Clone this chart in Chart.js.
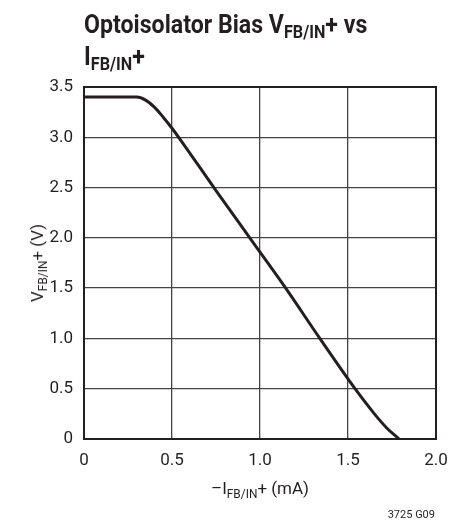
<!DOCTYPE html>
<html>
<head>
<meta charset="utf-8">
<script src="https://cdn.jsdelivr.net/npm/chart.js@4.4.1/dist/chart.umd.min.js"></script>
<style>
  html, body { margin: 0; padding: 0; background: #fff; }
  #wrap { position: relative; width: 469px; height: 521px; font-family: "Roboto", sans-serif; color: #231f20; }
  #myChart { position: absolute; left: 0; top: 0; }
  .title { position: absolute; left: 84px; font-weight: bold; font-size: 26px; line-height: 32px; white-space: nowrap; transform: scaleX(0.89); transform-origin: left center; }
  .title sub, .lbl sub { font-size: 70%; vertical-align: -0.3em; line-height: 0; }
  .lbl { position: absolute; font-size: 17px; white-space: nowrap; }
  #ylab { left: 37px; top: 263px; transform: translate(-50%, -50%) rotate(-90deg); }
  #xlab { left: 260px; top: 488px; transform: translate(-50%, -50%); }
  #code { position: absolute; right: 34px; top: 508px; font-size: 11px; }
</style>
</head>
<body>
<div id="wrap">
  <canvas id="myChart" width="469" height="521"></canvas>
  <div class="title" style="top:8px">Optoisolator Bias V<sub>FB/IN</sub>+ vs</div>
  <div class="title" style="top:40px">I<sub>FB/IN</sub>+</div>
  <div class="lbl" id="ylab">V<sub>FB/IN</sub>+ (V)</div>
  <div class="lbl" id="xlab">–I<sub>FB/IN</sub>+ (mA)</div>
  <div id="code">3725 G09</div>
</div>
<script>
// curve
let current = [0, 0.15, 0.3, 0.35, 0.4, 0.45, 0.5, 0.55, 0.75, 0.95, 1.15, 1.34, 1.54, 1.65, 1.72, 1.79];
let voltage = [3.40, 3.40, 3.40, 3.37, 3.30, 3.20, 3.09, 2.97, 2.47, 1.98, 1.49, 1.00, 0.50, 0.25, 0.11, 0];

let xTicks = ["0", "0.5", "1.0", "1.5", "2.0"];
let yTicks = ["0", "0.5", "1.0", "1.5", "2.0", "2.5", "3.0", "3.5"];

let points = current.map((c, i) => ({ x: c, y: voltage[i] }));

const tickFont = { family: "Roboto, sans-serif", size: 17 };

// frame round the plot area
const frame = {
  id: "frame",
  afterDraw(chart) {
    const a = chart.chartArea;
    const c = chart.ctx;
    c.save();
    c.strokeStyle = "#231f20";
    c.lineWidth = 2;
    c.strokeRect(a.left, a.top, a.right - a.left, a.bottom - a.top);
    c.restore();
  },
};

var ctx = document.getElementById("myChart");
var chart = new Chart(ctx, {
  type: "scatter",
  data: {
    datasets: [
      {
        data: points,
        showLine: true,
        borderColor: "#231f20",
        borderWidth: 3,
        pointRadius: 0,
        cubicInterpolationMode: "monotone",
      },
    ],
  },
  options: {
    responsive: false,
    animation: false,
    layout: { padding: { top: 87, right: 33, left: 0, bottom: 0 } },
    plugins: { legend: { display: false }, tooltip: { enabled: false } },
    scales: {
      x: {
        min: 0,
        max: 2,
        afterFit: (s) => { s.height = 82; },
        grid: { color: "#444", lineWidth: 1.3, drawTicks: false },
        border: { display: false },
        ticks: {
          stepSize: 0.5,
          padding: 12,
          color: "#231f20",
          font: tickFont,
          maxRotation: 0,
          callback: (v) => xTicks[Math.round(v * 2)],
        },
      },
      y: {
        min: 0,
        max: 3.5,
        afterFit: (s) => { s.width = 84; },
        grid: { color: "#444", lineWidth: 1.3, drawTicks: false },
        border: { display: false },
        ticks: {
          stepSize: 0.5,
          padding: 11,
          color: "#231f20",
          font: tickFont,
          callback: (v) => yTicks[Math.round(v * 2)],
        },
      },
    },
  },
  plugins: [frame],
});
</script>
</body>
</html>
